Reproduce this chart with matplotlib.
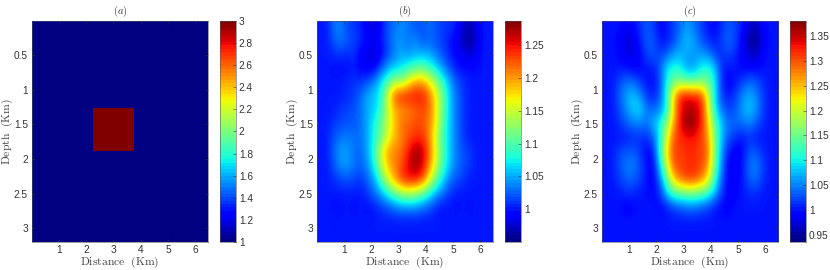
import numpy as np
import matplotlib
matplotlib.use('Agg')
import matplotlib.pyplot as plt

plt.rcParams['font.family'] = ['Liberation Sans', 'DejaVu Sans']
plt.rcParams['mathtext.fontset'] = 'cm'

# panel a: block model
a_x = [0.02, 2.24, 3.76, 6.46]
a_y = [0.01, 1.26, 1.88, 3.2]
a_vals = [[1, 1, 1],
          [1, 3, 1],
          [1, 1, 1]]

b_vals = [
 [1, 1, 1.03, 1.035, 1.015, 1.01, 1.0, .985, .975, .995, 1.02, 1.03, 1.04, 1.03, 1.02, 1.02, 1.03, 1.02, 1.01, 1.01, 1.0, .975, .965, .985, 1, 1],
 [1, 1, 1.02, 1.035, 1.02, 1.015, 1.005, .995, .985, 1.0, 1.02, 1.04, 1.04, 1.03, 1.04, 1.02, 1.025, 1.02, 1.01, 1.0, .985, .965, .955, .975, 1, 1],
 [1, 1, 1.005, 1.01, 1.005, 1.01, .985, .98, .975, .99, 1.015, 1.035, 1.05, 1.04, 1.05, 1.05, 1.05, 1.03, 1.02, 1.0, .99, .985, .975, .99, 1, 1],
 [1, 1, .995, .995, .995, 1.0, .99, .985, .99, 1.02, 1.05, 1.06, 1.07, 1.09, 1.1, 1.11, 1.09, 1.07, 1.04, 1.02, 1.0, .995, .995, .995, 1, 1],
 [1, 1, 1, 1, 1.005, 1.01, 1.01, 1.02, 1.04, 1.07, 1.1, 1.14, 1.13, 1.17, 1.2, 1.2, 1.17, 1.13, 1.09, 1.05, 1.02, 1.01, 1.0, 1, 1, 1],
 [1, 1, 1, 1, 1.005, 1.01, 1.03, 1.05, 1.06, 1.08, 1.16, 1.23, 1.25, 1.25, 1.25, 1.25, 1.22, 1.17, 1.11, 1.06, 1.03, 1.01, 1.0, 1, 1, 1],
 [1, 1, 1, 1.01, 1.015, 1.02, 1.03, 1.05, 1.06, 1.09, 1.15, 1.19, 1.2, 1.21, 1.22, 1.23, 1.22, 1.17, 1.11, 1.06, 1.03, 1.01, 1, 1, 1, 1],
 [1, 1, 1.01, 1.015, 1.02, 1.02, 1.03, 1.05, 1.08, 1.11, 1.15, 1.19, 1.22, 1.22, 1.23, 1.23, 1.21, 1.17, 1.1, 1.06, 1.03, 1.01, 1, 1, 1, 1],
 [1, 1, 1.02, 1.03, 1.035, 1.03, 1.03, 1.05, 1.08, 1.11, 1.16, 1.19, 1.21, 1.23, 1.24, 1.24, 1.21, 1.15, 1.09, 1.06, 1.03, 1.01, 1, 1, 1, 1],
 [1, 1, 1.025, 1.045, 1.045, 1.03, 1.025, 1.05, 1.09, 1.16, 1.2, 1.21, 1.22, 1.25, 1.28, 1.27, 1.22, 1.16, 1.1, 1.06, 1.03, 1.02, 1.01, 1, 1, 1],
 [1, 1, 1.02, 1.04, 1.045, 1.03, 1.025, 1.04, 1.08, 1.14, 1.19, 1.21, 1.23, 1.26, 1.28, 1.26, 1.21, 1.15, 1.09, 1.06, 1.03, 1.02, 1.01, 1, 1, 1],
 [1, 1, 1.005, 1.015, 1.02, 1.015, 1.01, 1.025, 1.05, 1.1, 1.16, 1.2, 1.24, 1.25, 1.25, 1.23, 1.17, 1.11, 1.07, 1.03, 1.02, 1.01, 1, 1, 1, 1],
 [1, 1, 1, 1, 1, 1, 1.0, 1.01, 1.03, 1.05, 1.08, 1.11, 1.13, 1.14, 1.13, 1.11, 1.08, 1.05, 1.03, 1.01, 1.0, 1, 1, 1, 1, 1],
 [1, 1, .995, .995, 1, .995, 1, .995, 1, 1.01, 1.02, 1.03, 1.04, 1.04, 1.04, 1.03, 1.02, 1.005, .995, 1, .995, 1, .995, 1, 1, 1],
 [1, 1, 1, 1, 1, 1, 1, 1, 1, 1, 1, 1, 1, 1, 1, 1, 1, 1, 1, 1, 1, 1, 1, 1, 1, 1],
 [1, 1, 1, 1, 1, 1, 1, 1, 1, 1, 1, 1, 1, 1, 1, 1, 1, 1, 1, 1, 1, 1, 1, 1, 1, 1],
]
c_vals = [
 [1, 1, 1.0, .985, .99, 1.01, 1.03, 1.02, .99, 1.0, 1.02, 1.04, 1.06, 1.04, 1.02, 1.0, .99, 1.01, 1.03, 1.02, 1.0, .97, .96, .99, 1, 1],
 [1, 1, .99, .97, .97, 1.0, 1.03, 1.03, 1.0, 1.0, 1.02, 1.05, 1.08, 1.06, 1.03, 1.01, 1.0, 1.02, 1.04, 1.02, .99, .95, .94, .98, 1, 1],
 [1, 1, .995, .975, .975, .99, 1.02, 1.03, 1.02, 1.03, 1.06, 1.07, 1.06, 1.06, 1.06, 1.05, 1.02, 1.01, 1.02, 1.01, .985, .97, .96, .99, 1, 1],
 [1, 1, 1, 1, .99, .99, 1.0, 1.0, 1.03, 1.09, 1.11, 1.1, 1.06, 1.06, 1.1, 1.11, 1.08, 1.01, 1.0, 1.0, .99, .99, .99, 1, 1, 1],
 [1, 1, 1.02, 1.04, 1.04, 1.02, 1.0, .995, 1.02, 1.1, 1.15, 1.16, 1.15, 1.15, 1.16, 1.15, 1.1, 1.01, .985, 1.0, 1.02, 1.04, 1.03, 1.01, 1, 1],
 [1, 1, 1.03, 1.06, 1.08, 1.06, 1.02, 1.0, 1.03, 1.11, 1.25, 1.33, 1.34, 1.33, 1.32, 1.21, 1.09, 1.02, 1.0, 1.02, 1.05, 1.07, 1.05, 1.02, 1, 1],
 [1, 1, 1.02, 1.05, 1.08, 1.09, 1.05, 1.04, 1.05, 1.1, 1.24, 1.33, 1.36, 1.36, 1.33, 1.23, 1.1, 1.04, 1.02, 1.03, 1.06, 1.08, 1.06, 1.02, 1, 1],
 [1, 1, 1.01, 1.03, 1.04, 1.05, 1.04, 1.07, 1.1, 1.17, 1.26, 1.34, 1.38, 1.37, 1.33, 1.25, 1.14, 1.08, 1.04, 1.04, 1.04, 1.05, 1.03, 1.01, 1, 1],
 [1, 1, 1, 1, 1.01, 1.01, 1.01, 1.03, 1.1, 1.2, 1.3, 1.32, 1.33, 1.33, 1.31, 1.27, 1.16, 1.07, 1.03, 1.01, 1.0, 1.01, 1.0, 1, 1, 1],
 [1, 1, 1.02, 1.03, 1.03, 1.02, .99, 1.0, 1.11, 1.23, 1.31, 1.31, 1.32, 1.32, 1.31, 1.29, 1.16, 1.06, 1.0, .985, .99, 1.03, 1.03, 1.01, 1, 1],
 [1, 1, 1.025, 1.045, 1.05, 1.03, 1.0, .985, 1.08, 1.2, 1.3, 1.31, 1.32, 1.32, 1.31, 1.27, 1.15, 1.05, .985, .98, 1.0, 1.04, 1.05, 1.02, 1, 1],
 [1, 1, 1.015, 1.03, 1.035, 1.02, 1.0, .985, 1.04, 1.14, 1.24, 1.29, 1.31, 1.31, 1.28, 1.23, 1.12, 1.03, .99, .985, 1.0, 1.03, 1.04, 1.015, 1, 1],
 [1, 1, 1, 1.01, 1.01, 1.0, 1.0, .99, 1.01, 1.08, 1.13, 1.14, 1.15, 1.15, 1.14, 1.12, 1.07, 1.02, .985, .99, 1.0, 1.01, 1.01, 1, 1, 1],
 [1, 1, 1, .985, .99, 1, 1, 1, .99, 1.0, 1.02, 1.03, 1.04, 1.04, 1.03, 1.02, 1.0, .99, .985, 1, 1, 1, 1, 1, 1, 1],
 [1, 1, 1, 1, 1, 1, 1, 1, 1, 1, 1, 1, 1, 1, 1, 1, 1, 1, 1, 1, 1, 1, 1, 1, 1, 1],
 [1, 1, 1, 1, 1, 1, 1, 1, 1, 1, 1, 1, 1, 1, 1, 1, 1, 1, 1, 1, 1, 1, 1, 1, 1, 1],
]

x_ticks = [1, 2, 3, 4, 5, 6]
y_ticks = [0.5, 1, 1.5, 2, 2.5, 3]
y_labels = ['0.5', '1', '1.5', '2', '2.5', '3']
a_cticks = [1, 1.2, 1.4, 1.6, 1.8, 2, 2.2, 2.4, 2.6, 2.8, 3]
a_clabels = ['1', '1.2', '1.4', '1.6', '1.8', '2', '2.2', '2.4', '2.6', '2.8', '3']
b_cticks = [1, 1.05, 1.1, 1.15, 1.2, 1.25]
b_clabels = ['1', '1.05', '1.1', '1.15', '1.2', '1.25']
c_cticks = [0.95, 1, 1.05, 1.1, 1.15, 1.2, 1.25, 1.3, 1.35]
c_clabels = ['0.95', '1', '1.05', '1.1', '1.15', '1.2', '1.25', '1.3', '1.35']

W, H = 830.0, 270.0
cmap = plt.get_cmap('jet', 64)
fig = plt.figure(figsize=(8.3, 2.7), dpi=100)


def panel(left, title, clim, cticks, clabels, vals=None):
    ax = fig.add_axes([left / W, 1 - 242 / H, 176 / W, 221 / H])
    if vals is None:
        ax.pcolormesh(a_x, a_y, a_vals, cmap=cmap, vmin=clim[0], vmax=clim[1])
    else:
        ax.imshow(vals, extent=[0, 6.5, 3.2, 0], aspect='auto', cmap='jet',
                  vmin=clim[0], vmax=clim[1], interpolation='bicubic')
    ax.set_xlim(0.02, 6.46)
    ax.set_ylim(3.2, 0.01)
    ax.set_xticks(x_ticks)
    ax.set_yticks(y_ticks)
    ax.set_yticklabels(y_labels)
    ax.tick_params(direction='in', length=2, width=0.4, top=True, right=True,
                   labelsize=7.3, pad=3, colors='#333333')
    ax.tick_params(axis='x', pad=2.5)
    ax.set_title(title, fontsize=7.5, pad=5, color='#333333')
    ax.set_xlabel(r'$\mathrm{Distance\ \ (Km)}$', fontsize=8.4, labelpad=-0.3, color='#444444')
    ax.set_ylabel(r'$\mathrm{Depth\ \ (Km)}$', fontsize=8.4, labelpad=-0.5, color='#444444')
    for s in ax.spines.values():
        s.set_linewidth(0.4)
        s.set_color('#555555')

    cax = fig.add_axes([(left + 187.5) / W, 1 - 242 / H, 16.5 / W, 221 / H])
    levels = np.linspace(clim[0], clim[1], 65)
    cax.pcolormesh([0, 1], levels, ((levels[:-1] + levels[1:]) / 2)[:, None],
                   cmap=cmap, vmin=clim[0], vmax=clim[1])
    cax.set_xticks([])
    cax.yaxis.tick_right()
    cax.set_yticks(cticks)
    cax.set_yticklabels(clabels)
    cax.tick_params(direction='in', length=2, width=0.4, labelsize=7.3, pad=2,
                    colors='#333333')
    for s in cax.spines.values():
        s.set_linewidth(0.4)
        s.set_color('#555555')


panel(32, r'$(a)$', (1, 3), a_cticks, a_clabels)
panel(317, r'$(b)$', (0.95, 1.287), b_cticks, b_clabels, b_vals)
panel(602, r'$(c)$', (0.936, 1.38), c_cticks, c_clabels, c_vals)

fig.savefig('out.png', dpi=100)
